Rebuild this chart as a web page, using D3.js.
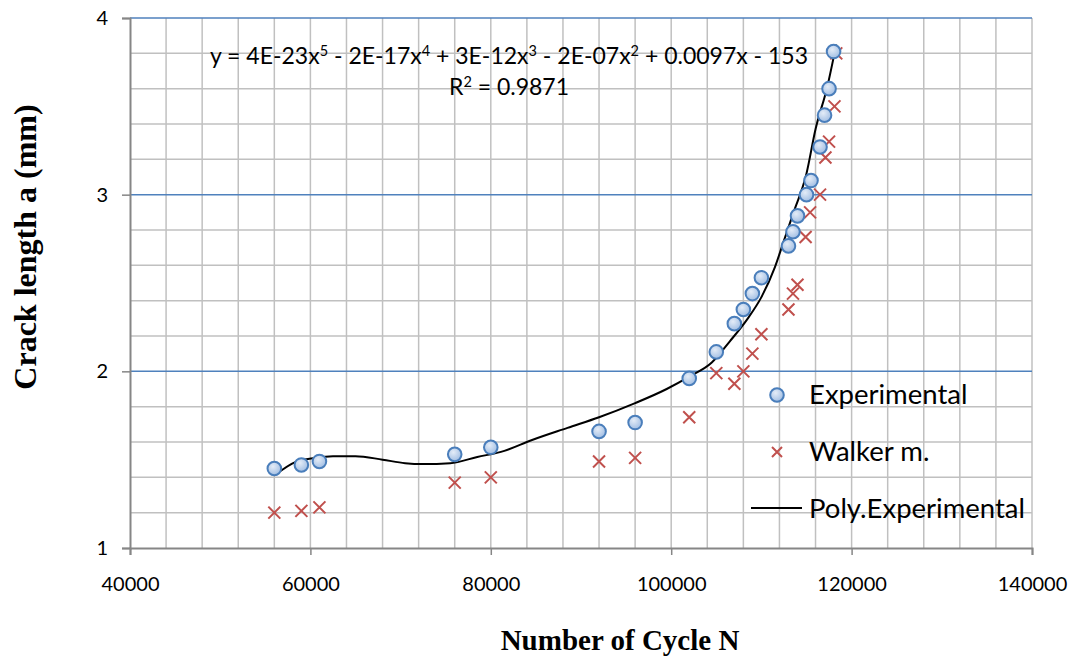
<!DOCTYPE html>
<html>
<head>
<meta charset="utf-8">
<script src="https://cdn.jsdelivr.net/npm/d3@7"></script>
<style>
  body { margin: 0; background: #fff; }
  svg { display: block; }
</style>
</head>
<body>
<div id="viz-container"></div>
<script>
// cycles and crack length
let expN = [56000, 59000, 61000, 76000, 80000, 92000, 96000, 102000, 105000, 107000, 108000,
            109000, 110000, 113000, 113500, 114000, 115000, 115500, 116500, 117000, 117500, 118000];
let expA = [1.45, 1.47, 1.49, 1.53, 1.57, 1.66, 1.71, 1.96, 2.11, 2.27, 2.35,
            2.44, 2.53, 2.71, 2.79, 2.88, 3.00, 3.08, 3.27, 3.45, 3.60, 3.81];

let walkN = [56000, 59000, 61000, 76000, 80000, 92000, 96000, 102000, 105000, 107000, 108000,
             109000, 110000, 113000, 113500, 114000, 114900, 115400, 116500, 117100, 117500, 118100, 118300];
let walkA = [1.20, 1.21, 1.23, 1.37, 1.40, 1.49, 1.51, 1.74, 1.99, 1.93, 2.00,
             2.10, 2.21, 2.35, 2.44, 2.49, 2.76, 2.90, 3.00, 3.21, 3.30, 3.50, 3.80];

// poly trend line
let trendN = [56000, 58500, 60500, 62500, 65000, 68000, 70500, 72500, 75500, 78500, 81500, 84500,
              88500, 92000, 96000, 99500, 102000, 104500, 106500, 108500, 110000, 111500, 112500,
              113500, 115000, 116000, 117300, 118300];
let trendA = [1.41, 1.49, 1.51, 1.52, 1.52, 1.50, 1.48, 1.475, 1.48, 1.515, 1.55, 1.61,
              1.68, 1.74, 1.82, 1.90, 1.97, 2.05, 2.17, 2.30, 2.42, 2.59, 2.74,
              2.89, 3.12, 3.37, 3.61, 3.85];

let xTicks = [40000, 60000, 80000, 100000, 120000, 140000];
let yTicks = [1, 2, 3, 4];

let width = 1076, height = 663;
let pLeft = 130, pRight = 1032, pTop = 18, pBottom = 548;

let viz = d3.select("#viz-container")
            .append("svg")
              .attr("width", width)
              .attr("height", height)
              .style("font-family", "Lato, 'Open Sans', sans-serif");

let x = d3.scaleLinear().domain([40000, 140000]).range([pLeft, pRight]);
let y = d3.scaleLinear().domain([1, 4]).range([pBottom, pTop]);

// grid
let grid = viz.append("g");
grid.selectAll(".vgrid").data(d3.range(44000, 140001, 4000)).enter().append("line")
    .attr("x1", d => x(d)).attr("x2", d => x(d))
    .attr("y1", pTop).attr("y2", pBottom)
    .attr("stroke", "#c0c0c0").attr("stroke-width", 1.5);
grid.selectAll(".hgrid").data(d3.range(1.2, 4, 0.2).filter(v => Math.abs(v - Math.round(v)) > 0.01)).enter().append("line")
    .attr("x1", pLeft).attr("x2", pRight)
    .attr("y1", d => y(d)).attr("y2", d => y(d))
    .attr("stroke", "#c0c0c0").attr("stroke-width", 1.5);
grid.selectAll(".hmajor").data([2, 3, 4]).enter().append("line")
    .attr("x1", pLeft).attr("x2", pRight)
    .attr("y1", d => y(d)).attr("y2", d => y(d))
    .attr("stroke", "#4f81bd").attr("stroke-width", 1.5);

// axes
let xAxis = viz.append("g").attr("transform", "translate(0," + pBottom + ")")
    .call(d3.axisBottom(x).tickValues(xTicks).tickFormat(d3.format("d")).tickSize(7).tickPadding(22));
let yAxis = viz.append("g").attr("transform", "translate(" + pLeft + ",0)")
    .call(d3.axisLeft(y).tickValues(yTicks).tickFormat(d3.format("d")).tickSize(8).tickPadding(14));
[xAxis, yAxis].forEach(a => {
  a.attr("font-size", null).attr("font-family", null);
  a.select(".domain").attr("stroke", "#868686").attr("stroke-width", 2);
  a.selectAll(".tick line").attr("stroke", "#868686").attr("stroke-width", 1.5);
  a.selectAll(".tick text").attr("fill", "#000").attr("font-size", 20).style("font-size", "20px")
   .style("font-family", "Lato, sans-serif");
});

// trend line
let line = d3.line().x(d => x(d[0])).y(d => y(d[1])).curve(d3.curveMonotoneX);
viz.append("path")
   .datum(d3.zip(trendN, trendA))
   .attr("d", line)
   .attr("fill", "none")
   .attr("stroke", "#000")
   .attr("stroke-width", 2);

// marker gradient
let grad = viz.append("defs").append("radialGradient").attr("id", "dotfill")
    .attr("cx", "40%").attr("cy", "35%").attr("r", "70%");
grad.append("stop").attr("offset", "0%").attr("stop-color", "#e4ecf7");
grad.append("stop").attr("offset", "100%").attr("stop-color", "#9dbbe2");

function drawDot(g) {
  g.append("circle").attr("r", 6.8)
   .attr("fill", "url(#dotfill)")
   .attr("stroke", "#4a7ebb").attr("stroke-width", 2);
}
function drawCross(g, s) {
  g.append("path")
   .attr("d", "M" + (-s) + "," + (-s) + "L" + s + "," + s + "M" + (-s) + "," + s + "L" + s + "," + (-s))
   .attr("stroke", "#c0504d").attr("stroke-width", 2).attr("fill", "none");
}

viz.selectAll(".walker").data(d3.zip(walkN, walkA)).enter().append("g")
   .attr("class", "walker")
   .attr("transform", d => "translate(" + x(d[0]) + "," + y(d[1]) + ")")
   .each(function () { drawCross(d3.select(this), 6); });

viz.selectAll(".exp").data(d3.zip(expN, expA)).enter().append("g")
   .attr("class", "exp")
   .attr("transform", d => "translate(" + x(d[0]) + "," + y(d[1]) + ")")
   .each(function () { drawDot(d3.select(this)); });

// equation
let eq = viz.append("text").attr("x", 509).attr("y", 64).attr("text-anchor", "middle")
    .style("font-size", "23px").attr("fill", "#000");
let parts = [["y = 4E-23x", ""], ["5", "sup"], [" - 2E-17x", ""], ["4", "sup"], [" + 3E-12x", ""], ["3", "sup"],
             [" - 2E-07x", ""], ["2", "sup"], [" + 0.0097x - 153", ""]];
parts.forEach((p, i) => {
  let t = eq.append("tspan").text(p[0]);
  if (p[1] === "sup") t.attr("dy", -8).style("font-size", "14.5px");
  else if (i > 0) t.attr("dy", 8);
});
let r2 = viz.append("text").attr("x", 509).attr("y", 95).attr("text-anchor", "middle")
    .style("font-size", "23px").attr("fill", "#000");
r2.append("tspan").text("R");
r2.append("tspan").text("2").attr("dy", -8).style("font-size", "14.5px");
r2.append("tspan").text(" = 0.9871").attr("dy", 8);

// legend
let legend = viz.append("g");
let l1 = legend.append("g").attr("transform", "translate(777,395)"); drawDot(l1);
let l2 = legend.append("g").attr("transform", "translate(777,452)"); drawCross(l2, 5);
legend.append("line").attr("x1", 751).attr("x2", 802).attr("y1", 508).attr("y2", 508)
      .attr("stroke", "#000").attr("stroke-width", 2);
legend.selectAll(".ltext").data(["Experimental", "Walker m.", "Poly.Experimental"]).enter().append("text")
      .attr("x", 809).attr("y", (d, i) => 404 + i * 57)
      .style("font-size", "27.5px").attr("fill", "#000")
      .text(d => d);

// axis titles
viz.append("text").attr("x", 620).attr("y", 650).attr("text-anchor", "middle")
   .style("font-family", "'Liberation Serif', 'Times New Roman', serif").style("font-weight", "bold")
   .style("font-size", "29px").text("Number of Cycle N");
viz.append("text").attr("transform", "translate(36,247) rotate(-90)").attr("text-anchor", "middle")
   .style("font-family", "'Liberation Serif', 'Times New Roman', serif").style("font-weight", "bold")
   .style("font-size", "32px").text("Crack length a (mm)");
</script>
</body>
</html>
